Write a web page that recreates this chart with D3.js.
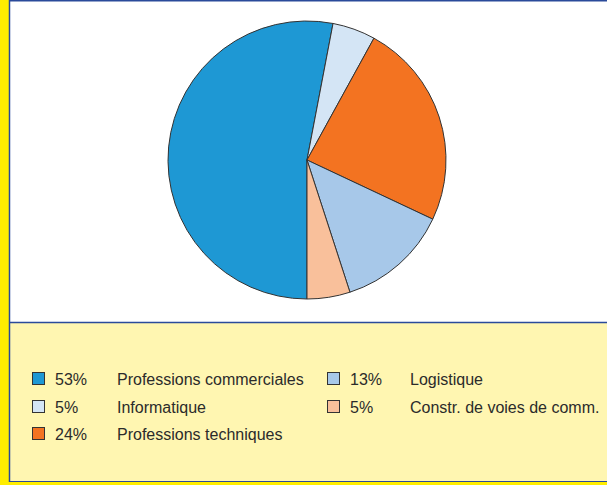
<!DOCTYPE html>
<html>
<head>
<meta charset="utf-8">
<script src="https://cdn.jsdelivr.net/npm/d3@7"></script>
<style>
  html, body { margin: 0; padding: 0; background: #fff; }
  svg { display: block; }
</style>
</head>
<body>
<div id="chart"></div>
<script>
// données
const categories = ['Professions commerciales', 'Informatique', 'Professions techniques', 'Logistique', 'Constr. de voies de comm.'];
const values = [53, 5, 24, 13, 5];
const percentLabels = ['53%', '5%', '24%', '13%', '5%'];
const colors = ['#1e98d4', '#d4e5f5', '#f37321', '#a7c8e9', '#f9c09b'];

const width = 607, height = 485;

const svg = d3.select('#chart')
    .append('svg')
    .attr('width', width)
    .attr('height', height);

// cadre
svg.append('rect').attr('x', 0).attr('y', 0).attr('width', width).attr('height', height).attr('fill', '#ffed00');
svg.append('rect').attr('x', 9).attr('y', 0).attr('width', width - 9).attr('height', 482).attr('fill', '#fff');
svg.append('rect').attr('x', 9).attr('y', 323).attr('width', width - 9).attr('height', 158).attr('fill', '#fff6b1');
svg.append('line').attr('x1', 9.5).attr('x2', 9.5).attr('y1', 0).attr('y2', 482)
    .attr('stroke', '#2a4a9a').attr('stroke-width', 1.5);
svg.append('line').attr('x1', 9).attr('x2', width).attr('y1', 0.75).attr('y2', 0.75)
    .attr('stroke', '#2a4a9a').attr('stroke-width', 1.5);
svg.append('line').attr('x1', 9).attr('x2', width).attr('y1', 322.5).attr('y2', 322.5)
    .attr('stroke', '#2a4a9a').attr('stroke-width', 1.5);
svg.append('line').attr('x1', 9).attr('x2', width).attr('y1', 481.5).attr('y2', 481.5)
    .attr('stroke', '#2a4a9a').attr('stroke-width', 1.2);

// camembert
const cx = 307, cy = 160, r = 139;
const pie = d3.pie().sort(null).startAngle(Math.PI).endAngle(3 * Math.PI);
const arc = d3.arc().innerRadius(0).outerRadius(r);

svg.append('g')
    .attr('transform', `translate(${cx},${cy})`)
    .selectAll('path')
    .data(pie(values))
    .join('path')
    .attr('d', arc)
    .attr('fill', (d, i) => colors[i])
    .attr('stroke', '#333')
    .attr('stroke-width', 1)
    .attr('stroke-linejoin', 'round');

// légende
const colX = [32, 327];
const rowY = [379, 407, 434];
const legendPos = [[0, 0], [0, 1], [0, 2], [1, 0], [1, 1]];

const legend = svg.append('g')
    .style('font-family', '"Liberation Sans", Arial, sans-serif')
    .style('font-size', '16px')
    .attr('fill', '#2b2b2b');

const items = legend.selectAll('g')
    .data(categories)
    .join('g')
    .attr('transform', (d, i) => `translate(${colX[legendPos[i][0]]},${rowY[legendPos[i][1]]})`);

items.append('rect')
    .attr('x', 0.5).attr('y', -6.5)
    .attr('width', 12).attr('height', 12)
    .attr('fill', (d, i) => colors[i])
    .attr('stroke', '#333').attr('stroke-width', 1);

items.append('text')
    .attr('x', 23).attr('dy', '0.35em')
    .text((d, i) => percentLabels[i]);

items.append('text')
    .attr('x', (d, i) => legendPos[i][0] === 0 ? 85 : 83)
    .attr('dy', '0.35em')
    .text(d => d);
</script>
</body>
</html>
